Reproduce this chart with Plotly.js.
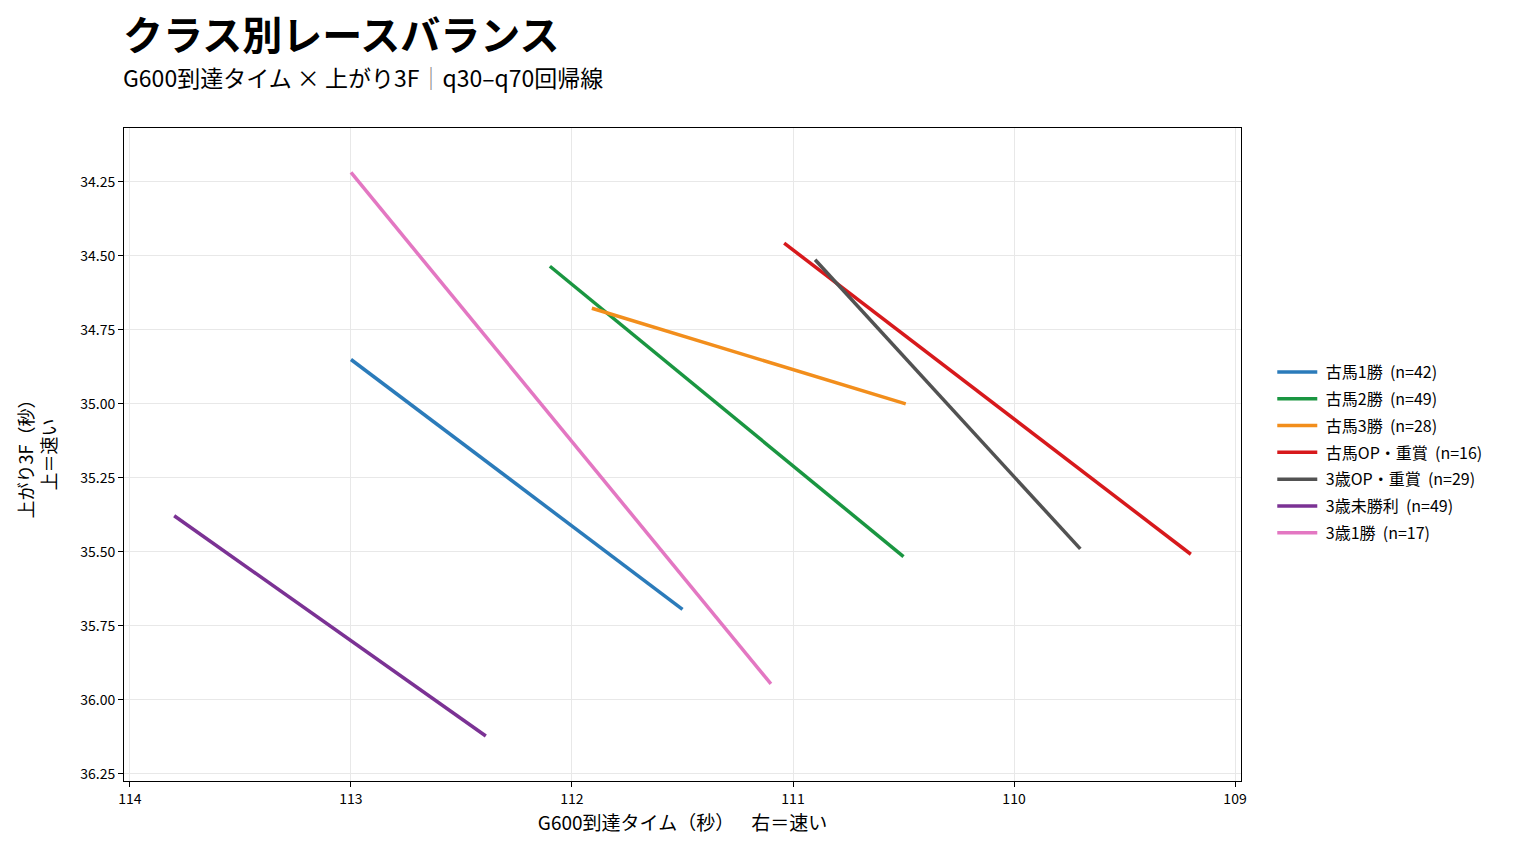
<!DOCTYPE html>
<html>
<head>
<meta charset="utf-8">
<script src="https://cdn.plot.ly/plotly-3.0.1.min.js"></script>
<style>
  html, body { margin: 0; padding: 0; background: #fff; }
  #chart { width: 1524px; height: 855px; }
</style>
</head>
<body>
<div id="chart"></div>
<script>
// q30-q70 regression line end points per class
var classes = ['古馬1勝', '古馬2勝', '古馬3勝', '古馬OP・重賞', '3歳OP・重賞', '3歳未勝利', '3歳1勝'];
var counts = [42, 49, 28, 16, 29, 49, 17];
var g600Start = [113.00, 112.10, 111.91, 111.04, 110.90, 113.80, 113.00];
var g600End = [111.50, 110.50, 110.49, 109.20, 109.70, 112.39, 111.10];
var last3fStart = [34.85, 34.535, 34.677, 34.457, 34.513, 35.378, 34.218];
var last3fEnd = [35.694, 35.516, 35.00, 35.508, 35.49, 36.122, 35.946];
var xTicks = [114, 113, 112, 111, 110, 109];
var yTicks = [34.25, 34.5, 34.75, 35.0, 35.25, 35.5, 35.75, 36.0, 36.25];

var colors = ['#2b7bba', '#1a9641', '#f28e1c', '#d7191c', '#525252', '#7b3294', '#e377c2'];

var font = '"Noto Sans CJK JP", "Noto Sans", sans-serif';
var nb = '\u00a0';

var data = [];
for (var i = 0; i < classes.length; i++) {
    data.push({
        x: [g600Start[i], g600End[i]],
        y: [last3fStart[i], last3fEnd[i]],
        name: nb + classes[i] + nb + nb + '(n=' + counts[i] + ')',
        legendgroup: 'g' + i,
        mode: 'lines',
        type: 'scatter',
        line: {color: colors[i], width: 3.5},
        hoverinfo: 'none'
    });
}

var layout = {
    width: 1524,
    height: 855,
    margin: {l: 124, r: 283, t: 128, b: 74, pad: 0},
    paper_bgcolor: '#ffffff',
    plot_bgcolor: '#ffffff',
    font: {family: font, color: '#000', size: 14},
    showlegend: true,
    legend: {
        x: 1.028,
        y: 0.503,
        xanchor: 'left',
        yanchor: 'middle',
        font: {size: 16, family: font},
        tracegroupgap: 3,
        itemwidth: 40
    },
    xaxis: {
        range: [114.027, 108.973],
        tickvals: xTicks,
        ticktext: xTicks.map(String),
        ticks: 'outside',
        ticklen: 5,
        tickcolor: '#000',
        showline: true,
        linecolor: '#000',
        linewidth: 1,
        mirror: true,
        showgrid: true,
        gridcolor: '#e8e8e8',
        zeroline: false,
        tickfont: {size: 14},
        title: {text: 'G600到達タイム（秒）' + nb + nb + nb + nb + '右＝速い', font: {size: 19}, standoff: 9}
    },
    yaxis: {
        range: [36.274, 34.068],
        tickvals: yTicks,
        ticktext: yTicks.map(function (v) { return v.toFixed(2); }),
        ticks: 'outside',
        ticklen: 5,
        tickcolor: '#000',
        showline: true,
        linecolor: '#000',
        linewidth: 1,
        mirror: true,
        showgrid: true,
        gridcolor: '#e8e8e8',
        zeroline: false,
        tickfont: {size: 14},
        title: {text: '上がり3F（秒）<br>上＝速い', font: {size: 18}, standoff: 18}
    },
    annotations: [
        {
            text: '<b>クラス別レースバランス</b>',
            xref: 'paper', yref: 'paper',
            x: 0, y: 1, xanchor: 'left', yanchor: 'bottom',
            xshift: -3, yshift: 64, showarrow: false,
            font: {size: 40, family: font, color: '#000'}
        },
        {
            text: 'G600到達タイム × 上がり3F<span style="color:#8a8a8a">｜</span>q30–q70回帰線',
            xref: 'paper', yref: 'paper',
            x: 0, y: 1, xanchor: 'left', yanchor: 'bottom',
            xshift: -3, yshift: 32, showarrow: false,
            font: {size: 23, family: font, color: '#000'}
        }
    ]
};

Plotly.newPlot('chart', data, layout, {displayModeBar: false, staticPlot: true});
</script>
</body>
</html>
